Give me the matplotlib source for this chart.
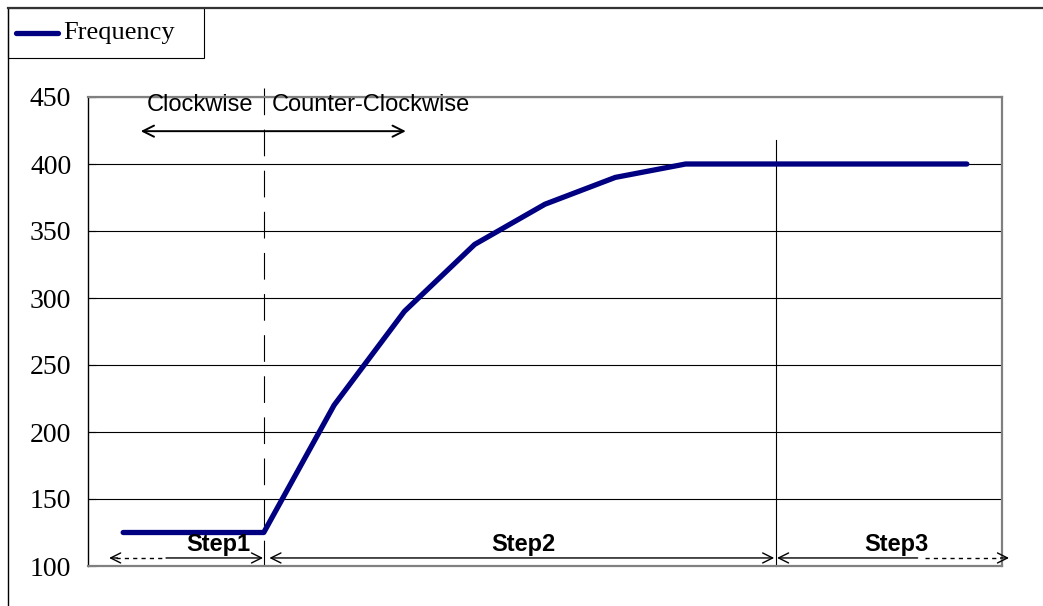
import matplotlib.pyplot as plt
from matplotlib.lines import Line2D
from matplotlib.patches import Rectangle

# data
steps = list(range(13))
frequency = [125, 125, 125, 220, 290, 340, 370, 390, 400, 400, 400, 400, 400]
y_ticks = [100, 150, 200, 250, 300, 350, 400, 450]
step_labels = ["Step1", "Step2", "Step3"]
step_label_x = [1.36, 5.69, 11.0]

fig = plt.figure(figsize=(10.43, 6.06), dpi=100)
ax = fig.add_axes([88 / 1043, 1 - 566 / 606, (1002 - 88) / 1043, (566 - 97) / 606])

navy = "#000080"
ax.plot(steps, frequency, color=navy, lw=3.8, solid_capstyle="round",
        solid_joinstyle="round", zorder=5)

ax.set_xlim(-0.5, 12.5)
ax.set_ylim(100, 450)
ax.set_yticks(y_ticks)
ax.set_yticklabels([str(v) for v in y_ticks], family="Liberation Serif", fontsize=20)
ax.set_xticks([])
ax.tick_params(axis="y", direction="in", length=6, width=0.8, pad=12)
ax.grid(axis="y", color="black", lw=0.8)
ax.set_axisbelow(True)
for s in ["top", "right", "bottom"]:
    ax.spines[s].set_color("#808080")
    ax.spines[s].set_linewidth(1.6)
ax.spines["left"].set_color("black")
ax.spines["left"].set_linewidth(1.0)

# direction markers
ax.plot([2.01, 2.01], [457, 100], color="black", lw=0.8,
        dashes=(24, 13), clip_on=False)
ax.plot([9.28, 9.28], [418, 100], color="black", lw=0.8, clip_on=False)

ax.text(1.1, 444, "Clockwise", family="Liberation Sans", fontsize=17,
        ha="center", va="center")
ax.text(2.12, 444, "Counter-Clockwise", family="Liberation Sans", fontsize=17,
        ha="left", va="center")
ax.annotate("", xy=(0.25, 424.5), xytext=(4.02, 424.5),
            arrowprops=dict(arrowstyle="<->", lw=1.4, color="black",
                            shrinkA=0, shrinkB=0, mutation_scale=20))

# step arrows
ya = 106
arrow_kw = dict(lw=1.0, color="black", shrinkA=0, shrinkB=0, mutation_scale=18)
# dashed ends with solid heads
ax.plot([-0.1, 0.61], [ya, ya], color="black", lw=1.0, ls=(0, (3, 3)), clip_on=False)
ax.annotate("", xy=(-0.2, ya), xytext=(-0.08, ya),
            arrowprops=dict(arrowstyle="->", **arrow_kw), annotation_clip=False)
ax.annotate("", xy=(1.99, ya), xytext=(0.61, ya),
            arrowprops=dict(arrowstyle="->", **arrow_kw), annotation_clip=False)
ax.annotate("", xy=(2.08, ya), xytext=(9.26, ya),
            arrowprops=dict(arrowstyle="<->", **arrow_kw), annotation_clip=False)
ax.annotate("", xy=(9.3, ya), xytext=(11.3, ya),
            arrowprops=dict(arrowstyle="->", **arrow_kw), annotation_clip=False)
ax.plot([11.4, 12.5], [ya, ya], color="black", lw=1.0, ls=(0, (3, 3)), clip_on=False)
ax.annotate("", xy=(12.6, ya), xytext=(12.48, ya),
            arrowprops=dict(arrowstyle="->", **arrow_kw), annotation_clip=False)
for lab, x in zip(step_labels, step_label_x):
    ax.text(x, 116, lab, family="Liberation Sans", fontweight="bold",
            fontsize=17, ha="center", va="center", zorder=6)

# outer frame and legend box
fig.add_artist(Line2D([8 / 1043, 8 / 1043], [0, 1 - 8 / 606], color="black", lw=1.0))
fig.add_artist(Line2D([8 / 1043, 1], [1 - 8 / 606, 1 - 8 / 606], color="#333333", lw=1.6))
fig.add_artist(Rectangle((8 / 1043, 1 - 58 / 606), 196 / 1043, 50 / 606,
                         transform=fig.transFigure, fill=False, ec="black", lw=0.8))
fig.add_artist(Line2D([16 / 1043, 58 / 1043], [1 - 33 / 606, 1 - 33 / 606],
                      color=navy, lw=3.8, solid_capstyle="round"))
fig.text(63 / 1043, 1 - 33 / 606, "Frequency", family="Liberation Serif",
         fontsize=19, va="center", ha="left")

fig.savefig("out.png", dpi=100)
